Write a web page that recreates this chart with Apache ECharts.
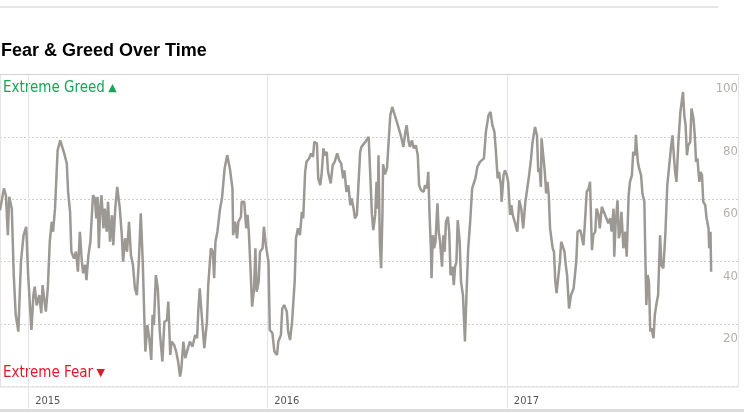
<!DOCTYPE html>
<html>
<head>
<meta charset="utf-8">
<script src="https://cdn.jsdelivr.net/npm/echarts@6/dist/echarts.min.js"></script>
<style>
html,body{margin:0;padding:0;background:#fff;}
#chart{width:744px;height:413px;}
</style>
</head>
<body>
<div id="chart"></div>
<script>
// Data: days since startDate, Fear & Greed index values
var startDate = '2014-11-19';
var endDate = '2017-12-20';
var yearTicks = ['2015', '2016', '2017'];
var yTicks = [20, 40, 60, 80, 100];
var days = [0,6,9,12,14,18,21,24,28,32,36,40,43,48,51,53,56,60,63,65,68,70,73,76,79,81,84,88,92,95,98,102,104,107,109,113,116,119,122,125,127,130,132,135,138,142,145,147,149,151,153,155,158,160,163,165,168,171,173,176,179,183,186,188,191,194,197,200,203,206,209,212,215,218,220,222,225,228,231,233,235,238,241,244,248,251,255,257,260,262,266,269,272,275,277,280,283,287,290,294,298,301,303,305,308,312,316,318,322,325,327,329,332,336,339,343,347,351,355,356,359,362,364,368,369,373,376,378,380,383,385,388,390,392,395,397,401,403,406,410,412,416,419,423,425,429,431,434,438,440,443,446,450,452,455,458,461,463,466,468,472,475,478,480,484,486,489,491,494,496,499,501,505,508,511,515,518,521,524,526,529,532,535,537,540,542,545,547,550,552,555,558,563,565,568,570,573,575,577,578,580,582,584,585,588,591,593,596,599,602,606,609,612,616,619,621,624,626,629,632,635,638,640,643,647,649,652,654,656,658,659,661,663,665,668,670,672,675,677,679,681,684,686,688,691,693,695,697,699,702,704,707,710,712,715,718,721,724,726,729,733,736,739,742,746,749,752,755,757,760,762,765,766,769,771,774,776,779,781,783,786,790,793,796,799,802,805,808,811,813,817,820,822,824,826,827,830,832,834,836,838,840,844,846,848,850,853,855,857,860,862,864,866,869,872,876,878,880,882,886,888,891,893,896,899,901,904,906,909,911,914,916,919,921,924,927,929,932,934,937,938,940,943,945,947,949,952,955,957,960,962,965,967,970,971,974,976,979,981,984,985,987,989,991,993,995,998,1000,1003,1005,1008,1010,1013,1016,1019,1022,1025,1027,1029,1031,1033,1036,1039,1043,1045,1047,1049,1051,1054,1056,1059,1061,1063,1065,1068,1070,1072,1074,1077,1079,1082,1083,1085,1086];
var values = [56.5,63.5,61.3,48.5,60.8,57,35.7,23,17.6,40,48.5,51.2,35.7,18.1,29.3,32,26,29.3,23.5,32.5,27.2,24,31.5,46.4,52.8,49.6,57,75.7,78.9,76.8,74.7,71.5,62.4,56,43.2,41,43.2,36.8,49.6,40,36.3,39,34.1,42,46.4,61.3,60.3,53.9,60.8,44.3,57,61.3,50.7,57,49.6,59.2,46.4,54.9,45.3,57,64,57,48.5,40,47.5,43.2,52.8,42,39,31.5,29.3,40,55.5,40,25,11.2,19.7,15.5,8.5,23,19.7,35.7,31.5,17.6,8,20.7,21.3,27.2,10.1,14.4,13.3,11.2,8,3.2,5.9,14.4,9.1,12.3,14.4,12.8,16.5,15.5,25,31.5,23,12.3,20.7,32.5,44.3,43.2,34.7,46.4,49.6,57,60.3,69.9,74.1,69.9,63.5,48.5,52.8,47.5,52.8,54.4,59.2,59.2,50.7,55,49.6,35.7,25.6,31.5,44.3,30.4,33.6,43.2,44.3,51.2,45.3,40,18.1,17.1,11.2,10.1,14.4,16.5,25,26.1,24,17.6,14.9,20.7,33.6,47.5,50.7,48.5,56,53.9,68.8,72,73.1,74.7,73.6,78.4,77.9,66.7,64.5,67.7,76.3,74.1,75.2,68.8,65.1,70.9,72,74.7,72.5,71.5,66.7,69.3,62.4,64.5,58.1,60.3,57,53.9,55,55,75.2,76.8,76.3,78.4,80,69.9,55,50.1,55,65.6,57,74.1,46.4,37.9,55,71.2,68,70,76.8,86.9,89.6,89.1,84.8,84.8,80.5,76.8,81.6,83.7,78.4,76.8,78.9,76.3,77.3,74.1,64.5,62.9,62.4,64.5,63.5,68.8,55,44.3,34.7,48.5,44.3,46.4,58.7,49.6,46.4,38.4,48.5,43.2,52.8,54.4,49.6,35.7,38.4,32.5,38.4,40,53.3,46.4,33.6,29.3,14.4,27.2,44.3,52.8,63.5,62.9,66.7,70.4,72,71.5,73.1,81.6,86.9,88,83.7,81.6,76.3,66.7,68.8,64.5,59.2,67.7,69.3,67.7,65.6,55,58.1,55,52.8,49.6,59.7,57,50.7,58.7,58.1,67.7,73.1,77.9,83.2,80.5,68.8,69.9,64,79.5,73.1,68.8,61.9,65.6,61.3,50.7,44.3,43.2,33.6,29.9,29.3,40,46.4,45.9,43.2,38.9,35.7,25,29.3,31.5,35.7,40,49.6,50.1,48.5,45.3,51.7,62.4,63.5,65.6,43.7,48.5,49.6,57,55,50.7,57.6,57,55,55,52.3,53.9,49.6,57,41.6,51.7,59.7,47.5,49.6,56,44.3,49.6,41.6,61.3,65.6,67.7,75.2,74.1,80.7,72,69.9,67.7,61.9,59.2,47.5,26.1,35.7,33.6,17.6,18.7,15.5,23,27.2,29.3,48.5,38.9,37.9,48.5,64.5,70.9,77.3,80.5,74.1,68.8,65.6,78.4,88,94.4,86.9,83.7,74.1,77.3,78.4,89.1,85.9,80.5,72,73.1,65.6,68.8,67.7,59.2,58.1,53.9,50.7,44.3,49.6,36.8];

var DAY = 86400000;
var t0 = Date.parse(startDate + 'T00:00:00Z');
var tEnd = Date.parse(endDate + 'T00:00:00Z');
var seriesData = days.map(function (d, i) { return [t0 + d * DAY, values[i]]; });
var YEAR = 365 * DAY;

var NARROW = '"Liberation Sans Narrow", "DejaVu Sans Condensed", "Roboto", sans-serif';

var chart = echarts.init(document.getElementById('chart'), null, {renderer: 'canvas'});
var option = {
  animation: false,
  useUTC: true,
  backgroundColor: '#ffffff',
  title: {
    text: 'Fear & Greed Over Time',
    left: 1,
    top: 42,
    padding: 0,
    textStyle: {fontFamily: '"Liberation Sans", Arial, sans-serif', fontSize: 18, fontWeight: 'bold', color: '#000'}
  },
  grid: {left: 0, right: 6, top: 74.5, bottom: 26.5, containLabel: false},
  xAxis: [{
    type: 'time',
    min: t0,
    max: tEnd,
    minInterval: YEAR,
    maxInterval: YEAR,
    axisLine: {show: true, lineStyle: {color: '#e6e6e6', width: 1.5}},
    axisTick: {show: true, length: 22, lineStyle: {color: '#e4e4e4', width: 1}},
    splitLine: {show: true, lineStyle: {color: '#e4e4e4', width: 1}},
    axisLabel: {
      formatter: function (v) {
        var y = String(new Date(v).getUTCFullYear());
        return yearTicks.indexOf(y) >= 0 ? y : '';
      },
      showMinLabel: false,
      showMaxLabel: false,
      align: 'left',
      padding: [0, 0, 0, 7],
      margin: 9,
      fontFamily: NARROW,
      fontSize: 11,
      color: '#555'
    }
  }, {
    type: 'time',
    position: 'top',
    min: t0,
    max: tEnd,
    axisLine: {show: true, lineStyle: {color: '#d4d4d4', width: 1}},
    axisTick: {show: false},
    axisLabel: {show: false},
    splitLine: {show: false}
  }],
  yAxis: {
    type: 'value',
    position: 'right',
    min: 0,
    max: 100,
    interval: 20,
    axisLine: {show: false},
    axisTick: {show: false},
    axisLabel: {
      inside: true,
      showMinLabel: false,
      margin: 0,
      verticalAlign: 'top',
      padding: [8, 0, 0, 0],
      fontFamily: NARROW,
      fontSize: 13,
      color: '#b3afab',
      formatter: function (v) { return yTicks.indexOf(v) >= 0 ? String(v) : ''; }
    },
    splitLine: {show: true, lineStyle: {color: '#cfcfcf', width: 1, type: [2, 2]}}
  },
  graphic: [
    {type: 'rect', left: 0, top: 6, shape: {width: 718, height: 2}, style: {fill: '#e6e6e6'}},
    {type: 'rect', left: 0, top: 409, shape: {width: 744, height: 3}, style: {fill: '#dcdcdc'}},
    {type: 'text', left: 3, top: 81, style: {
      text: '{t|Extreme Greed} {a|▲}',
      rich: {
        t: {fontFamily: NARROW, fontSize: 15, fill: '#1aa556'},
        a: {fontFamily: 'DejaVu Sans', fontSize: 11, fill: '#1aa556'}
      }
    }},
    {type: 'text', left: 3, top: 366, style: {
      text: '{t|Extreme Fear} {a|▼}',
      rich: {
        t: {fontFamily: NARROW, fontSize: 15, fill: '#e5162a'},
        a: {fontFamily: 'DejaVu Sans', fontSize: 11, fill: '#e5162a'}
      }
    }}
  ],
  series: [{
    type: 'line',
    xAxisIndex: 0,
    data: seriesData,
    showSymbol: false,
    symbol: 'none',
    lineStyle: {color: '#9c9893', width: 2.5},
    z: 5
  }]
};
chart.setOption(option);
</script>
</body>
</html>
